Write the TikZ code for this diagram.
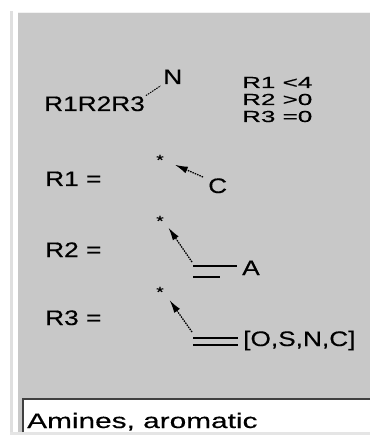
\documentclass[tikz,border=0pt]{standalone}
\usepackage{fontspec}
\newfontfamily\pixfont[FakeStretch=1.25, FakeBold=0.4]{Liberation Sans}
\newfontfamily\widefont[FakeStretch=1.42, FakeBold=0.4]{Liberation Sans}
\usetikzlibrary{arrows.meta}
\definecolor{panel}{RGB}{200,200,200}
\definecolor{edge}{RGB}{64,64,64}
\newcommand{\wide}[1]{\scalebox{1.3}[1]{#1}}
\tikzset{lbl/.style = {font=\pixfont\fontsize{21}{21}\selectfont, inner sep = 0, anchor = base west}}
\tikzset{tiny/.style = {font=\pixfont\fontsize{15}{15}\selectfont, inner sep = 0}}
\tikzset{ptr/.style = {line width = 1.3pt, dash pattern = on 1.5pt off 1pt,
                       -{Latex[length = 13pt, width = 7pt]}, shorten > = 10pt}}
\tikzset{bond/.style = {line width = 1.4pt}}

\begin{document}
\begin{tikzpicture}[x = 1pt, y = 1pt]
    \useasboundingbox (0, 0) rectangle (370, -435);
    % frame
    \fill [gray!25] (10, -11) rectangle (13, -435);
    \fill [panel] (18, -13) rectangle (370, -432);
    \draw [gray!10] (18, -12.5) -- (370, -12.5);
    \fill [gray!20] (10, -432) rectangle (370, -435);
    \fill [white] (22, -399) rectangle (370, -432);
    \draw [edge, line width = 2pt] (23, -432) |- (370, -399);

    % general formula
    \node [lbl] (chain) at (44, -111) {R1R2R3};
    \node [lbl] (atomN) at (163, -84) {N};
    \draw [line width = 1pt, dash pattern = on 1.5pt off 1pt, shorten < = 1pt, shorten > = 3pt]
        (chain.north east) -- (atomN.south west);

    \node [lbl, align = left, font = \pixfont\fontsize{16}{17}\selectfont]
        (rules) at (242, -122) {\wide{R1 <4}\\\wide{R2 >0}\\\wide{R3 =0}};

    % R1
    \node [lbl] (def1) at (45, -186) {R1 =};
    \node [tiny] (star1) at (160, -160) {*};
    \node [lbl] (labC) at (208, -193) {C};
    \coordinate (tail1) at (203, -177);
    \draw [ptr, shorten > = 12pt] (tail1) -- (star1.east);

    % R2
    \node [lbl] (def2) at (45, -257) {R2 =};
    \node [tiny] (star2) at (160, -221) {*};
    \node [lbl] (labA) at (242, -275) {A};
    \coordinate (tail2) at (192, -262);
    \coordinate (bond2) at (193, -266);
    \draw [ptr, shorten > = 8pt] (tail2) -- (star2.east);
    \draw [bond] (bond2) -- ++(44, 0);
    \draw [bond] ([yshift = -11pt] bond2) -- ++(27, 0);

    % R3
    \node [lbl] (def3) at (45, -325) {R3 =};
    \node [tiny] (star3) at (160, -292) {*};
    \node [lbl] (labX) at (243, -346) {[O,S,N,C]};
    \coordinate (tail3) at (192, -332);
    \coordinate (bond3) at (193, -338);
    \draw [ptr] (tail3) -- (star3.east);
    \draw [bond] (bond3) -- ++(45, 0);
    \draw [bond] ([yshift = -7pt] bond3) -- ++(45, 0);

    \node [lbl, font = \widefont\fontsize{21}{21}\selectfont] (title) at (27, -428) {Amines, aromatic};
\end{tikzpicture}
\end{document}
